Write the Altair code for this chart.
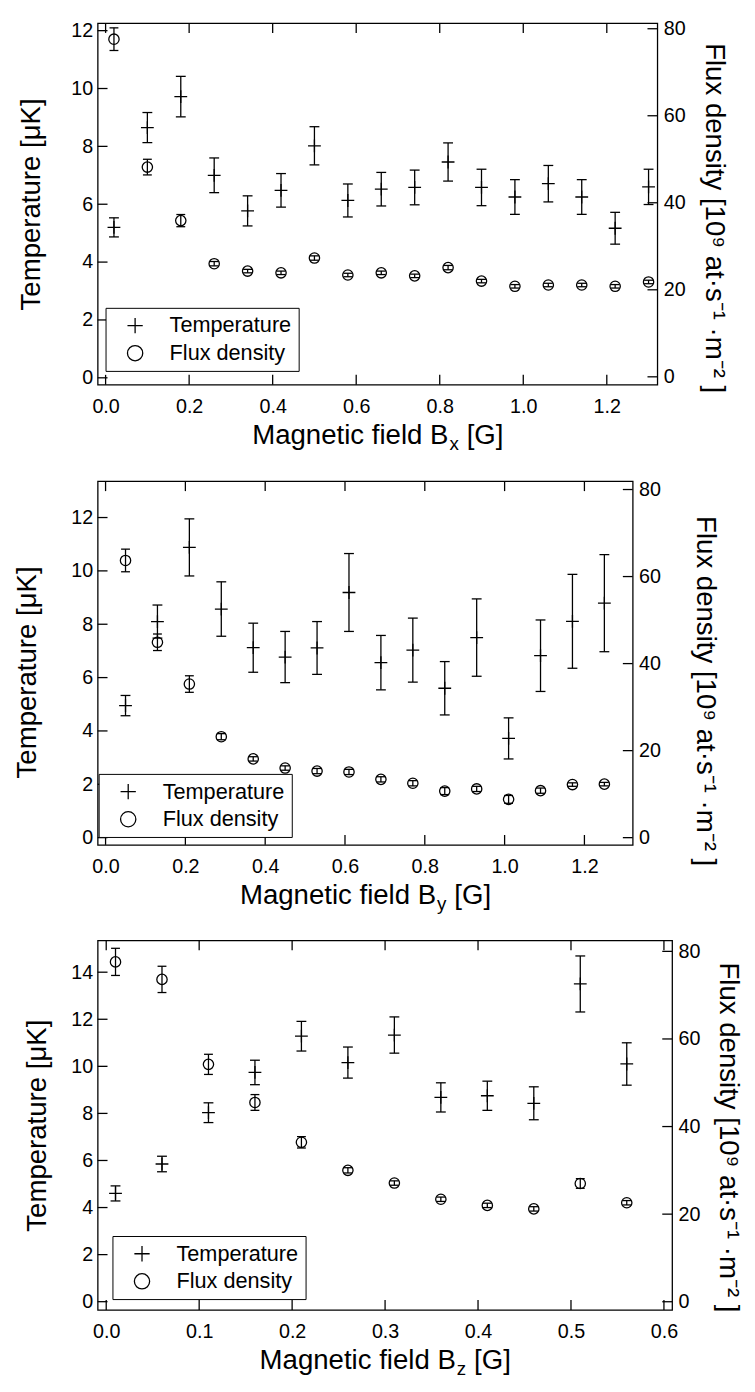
import altair as alt
import pandas as pd

FONT = "Liberation Sans"
INK = "black"
LW = 1.3
PLUS = "M-1,0H1M0,-1V1"

# ---------------- data ----------------
# Panel 1 : field along x
bx_field = [0.02, 0.10, 0.18, 0.26, 0.34, 0.42, 0.50, 0.58, 0.66, 0.74, 0.82, 0.90, 0.98, 1.06, 1.14, 1.22, 1.30]
bx_temp = [5.20, 8.65, 9.72, 7.00, 5.77, 6.48, 8.02, 6.13, 6.52, 6.58, 7.46, 6.58, 6.25, 6.71, 6.25, 5.17, 6.60]
bx_temp_err = [0.33, 0.52, 0.70, 0.60, 0.52, 0.58, 0.66, 0.57, 0.58, 0.60, 0.66, 0.63, 0.60, 0.63, 0.60, 0.55, 0.61]
bx_flux = [77.6, 48.2, 35.9, 26.0, 24.3, 23.9, 27.3, 23.4, 23.9, 23.2, 25.1, 22.0, 20.8, 21.1, 21.1, 20.8, 21.8]
bx_flux_err = [2.6, 1.8, 1.4, 0.5, 0.4, 0.4, 0.5, 0.4, 0.4, 0.4, 0.5, 0.4, 0.4, 0.4, 0.4, 0.4, 0.4]

# Panel 2 : field along y
by_field = [0.05, 0.13, 0.21, 0.29, 0.37, 0.45, 0.53, 0.61, 0.69, 0.77, 0.85, 0.93, 1.01, 1.09, 1.17, 1.25]
by_temp = [4.95, 8.10, 10.88, 8.57, 7.12, 6.77, 7.11, 9.19, 6.56, 7.03, 5.60, 7.50, 3.72, 6.82, 8.11, 8.79]
by_temp_err = [0.38, 0.62, 1.07, 1.02, 0.92, 0.96, 0.99, 1.46, 1.02, 1.20, 1.00, 1.45, 0.77, 1.34, 1.76, 1.82]
by_flux = [63.7, 44.9, 35.3, 23.2, 18.1, 16.0, 15.3, 15.1, 13.4, 12.5, 10.7, 11.2, 8.8, 10.8, 12.2, 12.3]
by_flux_err = [2.6, 1.9, 1.9, 0.7, 0.5, 0.5, 0.6, 0.6, 0.6, 0.6, 0.8, 0.6, 0.9, 0.6, 0.4, 0.4]

# Panel 3 : field along z
bz_field = [0.01, 0.06, 0.11, 0.16, 0.21, 0.26, 0.31, 0.36, 0.41, 0.46, 0.51, 0.56]
bz_temp = [4.60, 5.85, 8.03, 9.74, 11.28, 10.16, 11.33, 8.68, 8.75, 8.43, 13.50, 10.10]
bz_temp_err = [0.32, 0.33, 0.42, 0.52, 0.63, 0.66, 0.77, 0.62, 0.62, 0.70, 1.19, 0.90]
bz_flux = [77.6, 73.6, 54.2, 45.5, 36.4, 30.0, 27.1, 23.4, 22.0, 21.2, 27.0, 22.6]
bz_flux_err = [3.1, 3.0, 2.3, 1.8, 1.3, 0.6, 0.5, 0.5, 0.5, 0.5, 1.1, 0.5]

# tick values
x_ticks_xy = [0.0, 0.2, 0.4, 0.6, 0.8, 1.0, 1.2]
x_ticks_z = [0.0, 0.1, 0.2, 0.3, 0.4, 0.5, 0.6]
temp_ticks_12 = [0, 2, 4, 6, 8, 10, 12]
temp_ticks_14 = [0, 2, 4, 6, 8, 10, 12, 14]
flux_ticks = [0, 20, 40, 60, 80]

# texts
series_names = ["Temperature", "Flux density"]
x_title_main = "Magnetic field B"
x_title_tail = "[G]"
left_title = "Temperature [μK]"
right_title = "Flux density [10⁹ at·s⁻¹ ·m⁻² ]"

TICK_FS = 20
TITLE_FS = 28
SUB_FS = 19
LEG_FS = 22
TICK_LEN = 10


def panel(field, temp, temp_err, flux, flux_err, sub, xdom, xticks, tdom, tticks,
          fdom, W, H, leg_xy, left_extent, left_dy, right_pad, right_dy):
    tdf = pd.DataFrame({
        "B": field, "v": temp,
        "lo": [a - b for a, b in zip(temp, temp_err)],
        "hi": [a + b for a, b in zip(temp, temp_err)],
        "series": series_names[0],
    })
    fdf = pd.DataFrame({
        "B": field, "v": flux,
        "lo": [a - b for a, b in zip(flux, flux_err)],
        "hi": [a + b for a, b in zip(flux, flux_err)],
        "series": series_names[1],
    })
    xs = alt.Scale(domain=xdom, nice=False, zero=False)
    ts = alt.Scale(domain=tdom, nice=False, zero=False)
    fsc = alt.Scale(domain=fdom, nice=False, zero=False)

    common = dict(grid=False, ticks=False, tickSize=0, domain=False, labelFont=FONT,
                  labelFontSize=TICK_FS, labelColor=INK)
    xaxis = alt.Axis(values=xticks, format=".1f", title=None, labelPadding=12,
                     labelFlush=False, **common)
    taxis = alt.Axis(orient="left", values=tticks, format="d", title=left_title,
                     labelPadding=5, titleFont=FONT, titleFontSize=TITLE_FS,
                     titleFontWeight="normal", titleColor=INK, titlePadding=8,
                     minExtent=left_extent, maxExtent=left_extent,
                     titleY=H / 2 + left_dy, **common)
    faxis = alt.Axis(orient="right", values=flux_ticks, format="d", title=right_title,
                     labelPadding=6, titleFont=FONT, titleFontSize=TITLE_FS,
                     titleFontWeight="normal", titleColor=INK, titlePadding=right_pad,
                     titleY=H / 2 + right_dy, **common)

    shape_scale = alt.Scale(domain=series_names, range=[PLUS, "circle"])
    legend = alt.Legend(orient="none", legendX=leg_xy[0], legendY=leg_xy[1], title=None,
                        strokeColor=INK, fillColor="white", padding=7,
                        symbolSize=240, symbolStrokeWidth=LW, symbolStrokeColor=INK,
                        symbolOffset=12, labelOffset=24, rowPadding=6,
                        labelFont=FONT, labelFontSize=LEG_FS, labelColor=INK)

    X = alt.X("B:Q", scale=xs, axis=xaxis)
    X2 = alt.X2("B")

    def group(df, scale, axis, size, cap):
        base = alt.Chart(df)
        Yv = lambda f: alt.Y(f"{f}:Q", scale=scale, axis=axis)
        bar = base.mark_rule(color=INK, strokeWidth=LW).encode(x=X, y=Yv("lo"), y2="hi:Q")
        cap_lo = base.mark_rule(color=INK, strokeWidth=LW, xOffset=-cap, x2Offset=cap).encode(
            x=X, x2=X2, y=Yv("lo"))
        cap_hi = base.mark_rule(color=INK, strokeWidth=LW, xOffset=-cap, x2Offset=cap).encode(
            x=X, x2=X2, y=Yv("hi"))
        pts = base.mark_point(filled=False, color=INK, strokeWidth=LW, opacity=1, size=size).encode(
            x=X, y=Yv("v"),
            shape=alt.Shape("series:N", scale=shape_scale, legend=legend))
        return [bar, cap_lo, cap_hi, pts], Yv

    t_layers, TY = group(tdf, ts, taxis, 169, 5)
    f_layers, FY = group(fdf, fsc, faxis, 110, 4.5)

    # inward frame ticks
    tick_rule = dict(color=INK, strokeWidth=LW)
    left_t = alt.Chart(pd.DataFrame({"v": tticks})).mark_rule(**tick_rule).encode(
        y=TY("v"), x=alt.value(0), x2=alt.value(TICK_LEN))
    right_t = alt.Chart(pd.DataFrame({"v": flux_ticks})).mark_rule(**tick_rule).encode(
        y=FY("v"), x=alt.value(W - TICK_LEN), x2=alt.value(W))
    xt = alt.Chart(pd.DataFrame({"B": xticks}))
    top_t = xt.mark_rule(**tick_rule).encode(x=X, y=alt.value(0), y2=alt.value(TICK_LEN))
    bot_t = xt.mark_rule(**tick_rule).encode(x=X, y=alt.value(H - TICK_LEN), y2=alt.value(H))

    # x title with subscript
    bx = W / 2 + 72
    t_main = alt.Chart(pd.DataFrame({"t": [x_title_main]})).mark_text(
        align="right", baseline="alphabetic", font=FONT, fontSize=TITLE_FS, color=INK).encode(
        text="t:N", x=alt.value(bx), y=alt.value(H + 60))
    t_sub = alt.Chart(pd.DataFrame({"t": [sub]})).mark_text(
        align="left", baseline="alphabetic", font=FONT, fontSize=SUB_FS, color=INK).encode(
        text="t:N", x=alt.value(bx + 1), y=alt.value(H + 66))
    t_tail = alt.Chart(pd.DataFrame({"t": [x_title_tail]})).mark_text(
        align="left", baseline="alphabetic", font=FONT, fontSize=TITLE_FS, color=INK).encode(
        text="t:N", x=alt.value(bx + 18.5), y=alt.value(H + 60))

    temp_group = alt.layer(*t_layers, left_t, top_t, bot_t, t_main, t_sub, t_tail)
    flux_group = alt.layer(*f_layers, right_t)
    return alt.layer(temp_group, flux_group).resolve_scale(y="independent").properties(
        width=W, height=H)


p1 = panel(bx_field, bx_temp, bx_temp_err, bx_flux, bx_flux_err, "x",
           [-0.019, 1.321], x_ticks_xy, [-0.238, 12.262], temp_ticks_12, [-1.81, 81.3],
           568, 367, (8, 289), 45, 0, 15, 14)
p2 = panel(by_field, by_temp, by_temp_err, by_flux, by_flux_err, "y",
           [-0.0198, 1.321], x_ticks_xy, [-0.27, 13.36], temp_ticks_12, [-1.65, 81.9],
           543, 369, (1, 297), 49, 9, 31, 28)
p3 = panel(bz_field, bz_temp, bz_temp_err, bz_flux, bz_flux_err, "z",
           [-0.0092, 0.6088], x_ticks_z, [-0.35, 15.35], temp_ticks_14, [-1.87, 82.5],
           583, 375, (15, 300), 39, 0, 14, 12)

chart = alt.vconcat(p1, p2, p3, spacing=24).resolve_scale(
    shape="independent").resolve_legend(shape="independent").properties(
    padding={"left": 5, "top": 0, "right": 5, "bottom": 2},
    background="white",
).configure_view(stroke=INK, strokeWidth=LW).configure_legend(
    symbolFillColor="transparent")

chart.save("out.html", embed_options={"renderer": "svg", "actions": False})
